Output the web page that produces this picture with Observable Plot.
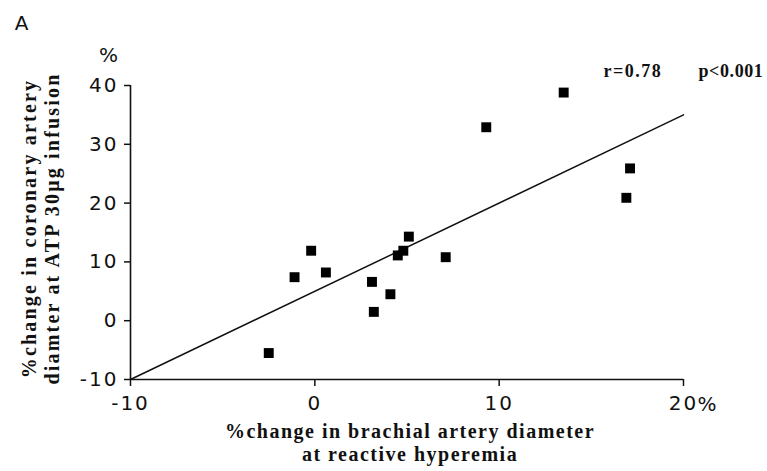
<!DOCTYPE html>
<html>
<head>
<meta charset="utf-8">
<script src="https://cdn.jsdelivr.net/npm/d3@7"></script>
<script src="https://cdn.jsdelivr.net/npm/@observablehq/plot@0.6"></script>
<style>
  html, body { margin: 0; padding: 0; background: #fff; }
  #chart svg { display: block; }
</style>
</head>
<body>
<div id="chart"></div>
<script>
// % change in brachial artery diameter at reactive hyperemia (x)
const brachial = [-2.5, -1.1, -0.2, 0.6, 3.1, 3.2, 4.1, 4.5, 4.8, 5.1, 7.1, 9.3, 13.5, 17.1, 16.9];
// % change in coronary artery diameter at ATP 30 µg infusion (y)
const coronary = [-5.5, 7.4, 11.9, 8.2, 6.6, 1.5, 4.5, 11.1, 11.9, 14.3, 10.8, 32.9, 38.8, 25.9, 20.9];

// fitted regression line end points
const fitX = [-10, 20];
const fitY = [-10, 35];

const xTicks = [-10, 0, 10, 20];
const yTicks = [-10, 0, 10, 20, 30, 40];

const xTitle = "%change in brachial artery diameter\nat reactive hyperemia";
const yTitle = "%change in coronary artery\ndiamter at ATP 30\u03bcg infusion";
const rText = "r=0.78";
const pText = "p<0.001";
const panel = "A";

const points = brachial.map((x, i) => ({x, y: coronary[i]}));
const fit = fitX.map((x, i) => ({x, y: fitY[i]}));

const sans = "DejaVu Sans";
const serif = "Liberation Serif";

const chart = Plot.plot({
  width: 767,
  height: 471,
  marginLeft: 130,
  marginRight: 84,
  marginTop: 85,
  marginBottom: 92,
  style: {fontFamily: sans, background: "#fff", color: "#111"},
  x: {domain: [-10, 20]},
  y: {domain: [-10, 40]},
  marks: [
    // axis lines
    Plot.ruleY([-10], {stroke: "#111", strokeWidth: 1.6}),
    Plot.ruleX([-10], {stroke: "#111", strokeWidth: 1.6}),
    Plot.axisX({
      ticks: xTicks, tickSize: 7, tickPadding: 9, strokeWidth: 1.5,
      fontSize: 20, fontFamily: sans, label: null,
      tickFormat: d => String(d)
    }),
    Plot.axisY({
      ticks: yTicks, tickSize: 6, tickPadding: 6, strokeWidth: 1.5,
      fontSize: 20, fontFamily: sans, label: null,
      tickFormat: d => String(d)
    }),
    // regression line
    Plot.line(fit, {x: "x", y: "y", stroke: "#111", strokeWidth: 1.5}),
    // observations
    Plot.dot(points, {x: "x", y: "y", symbol: "square", r: 5.6, fill: "#000", stroke: "none"}),
    // unit marks
    Plot.text(["%"], {frameAnchor: "bottom-right", dx: 14, dy: 25, textAnchor: "start", lineAnchor: "middle", fontSize: 20, fontFamily: sans}),
    Plot.text(["%"], {frameAnchor: "top-left", dx: -22, dy: -30, textAnchor: "middle", lineAnchor: "middle", fontSize: 20, fontFamily: sans}),
    // panel letter
    Plot.text([panel], {frameAnchor: "top-left", dx: -109, dy: -62, textAnchor: "middle", lineAnchor: "middle", fontSize: 20, fontFamily: sans}),
    // statistics
    Plot.text([rText], {frameAnchor: "top-right", dx: -80, dy: -9, textAnchor: "start", lineAnchor: "bottom", fontSize: 18, fontWeight: "bold", fontFamily: serif}),
    Plot.text([pText], {frameAnchor: "top-right", dx: 15, dy: -9, textAnchor: "start", lineAnchor: "bottom", fontSize: 18, fontWeight: "bold", fontFamily: serif}),
    // axis titles
    Plot.text([xTitle], {frameAnchor: "bottom", dx: 3, dy: 63, textAnchor: "middle", lineAnchor: "middle", lineHeight: 1.15, fontSize: 20, fontWeight: "bold", fontFamily: serif}),
    Plot.text([yTitle], {frameAnchor: "left", dx: -90, dy: -4, rotate: -90, textAnchor: "middle", lineAnchor: "middle", lineHeight: 1.12, fontSize: 20, fontWeight: "bold", fontFamily: serif})
  ]
});

// typographic spacing of the printed figure
const spacing = new Map([
  [xTitle.replace("\n", ""), "1.5px"],
  [yTitle.replace("\n", ""), "2.2px"],
  [rText, "1.5px"],
  [pText, "0.6px"]
]);
d3.select(chart).selectAll("text").each(function() {
  const s = spacing.get(this.textContent);
  if (s) d3.select(this).style("letter-spacing", s);
});
d3.select(chart).selectAll("g[aria-label='x-axis tick label'] text, g[aria-label='y-axis tick label'] text")
  .style("letter-spacing", "2px");

document.getElementById("chart").appendChild(chart);
</script>
</body>
</html>
